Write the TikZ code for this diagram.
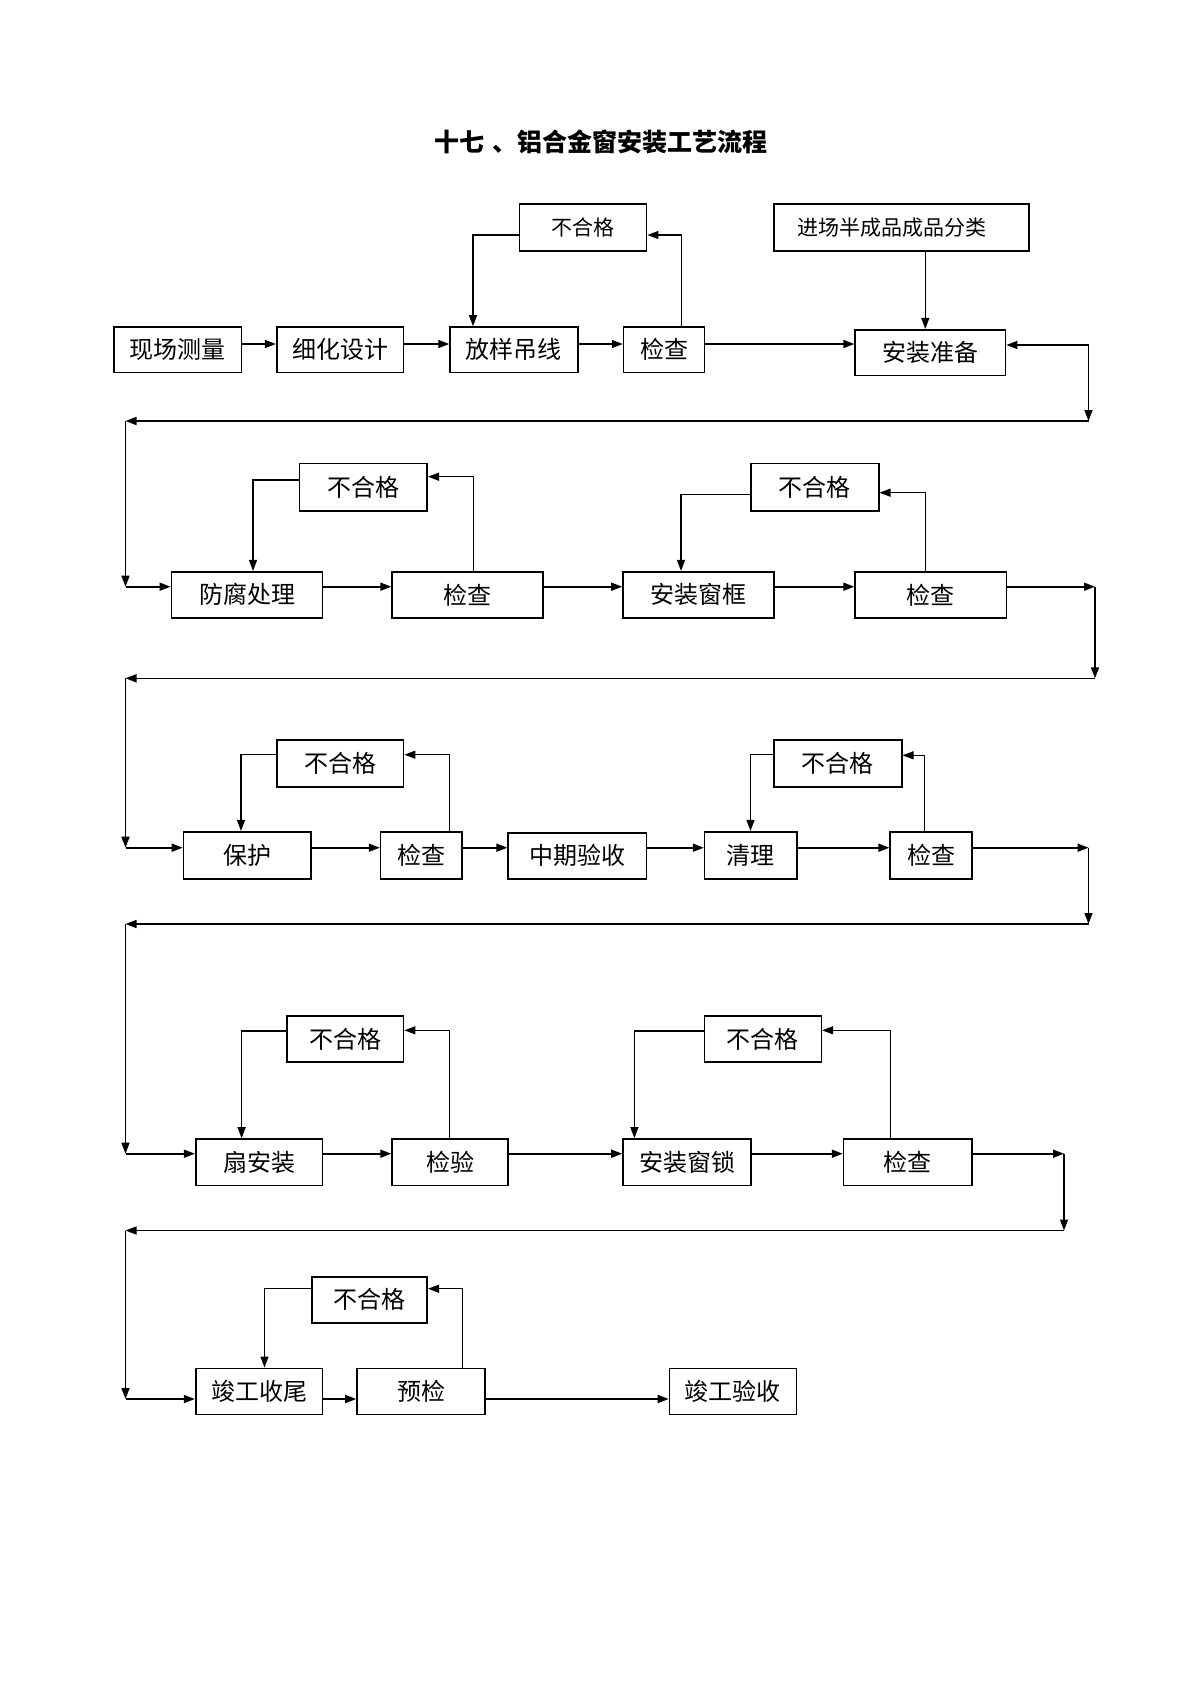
\documentclass[tikz,border=0pt]{standalone}
\usepackage{fontspec}
\setmainfont{Noto Sans CJK SC}
\usetikzlibrary{arrows.meta}
\tikzset{
  box/.style={draw, line width=0.8pt, inner sep=0pt, font=\fontsize{12pt}{12pt}\selectfont},
  sbox/.style={box, font=\fontsize{10.5pt}{10.5pt}\selectfont},
  flow/.style={line width=0.8pt, -{Triangle[length=5.5pt,width=4pt]}},
  back/.style={line width=0.6pt, -{Triangle[length=5.5pt,width=4pt]}},
}
\newcommand\bx[7][box]{\node[#1, minimum width={(#5-#3)*0.5pt}, minimum height={(#6-#4)*0.5pt}] (#2) at ({(#3+#5)/2},{(#4+#6)/2}) {#7};}
\begin{document}
\begin{tikzpicture}[x=0.5pt,y=-0.5pt]
\useasboundingbox[fill=white] (0,0) rectangle (1200,1697);

\node[font=\bfseries\fontsize{12.5pt}{12.5pt}\selectfont] (title) at (600.6,142) {十七\hspace{4pt}、铝合金窗安装工艺流程};

% row 1
\bx{a1}{114}{327}{241.6}{372.3}{现场测量}
\bx{a2}{276.7}{327}{403.6}{372.3}{细化设计}
\bx{a3}{450.1}{327}{577.7}{372.3}{放样吊线}
\bx{a4}{623.6}{327}{704.6}{372.3}{检查}
\bx{a5}{855.1}{329.7}{1005.6}{375.3}{安装准备}
\bx[sbox]{n1}{519.6}{203.7}{646.6}{250.7}{不合格}
\bx[sbox]{p1}{774.1}{203.7}{1029.2}{250.7}{\kern-10pt 进场半成品成品分类}

% row 2
\bx{b1}{171.4}{571.7}{322.6}{618}{防腐处理}
\bx{b2}{392.1}{571.7}{543.2}{618}{检查}
\bx{b3}{623}{571.7}{774.1}{618}{安装窗框}
\bx{b4}{855.1}{571.7}{1006.3}{618}{检查}
\bx{n2}{299.6}{463.3}{427.2}{510.7}{不合格}
\bx{n3}{751.1}{463.3}{878.7}{510.7}{不合格}

% row 3
\bx{c1}{183.5}{831.7}{311.1}{878.7}{保护}
\bx{c2}{380.6}{831.7}{462.2}{878.7}{检查}
\bx{c3}{508.2}{832.7}{646.6}{878.7}{中期验收}
\bx{c4}{704.6}{831.7}{797.1}{878.7}{清理}
\bx{c5}{890.2}{831.7}{971.8}{878.7}{检查}
\bx{n4}{276.7}{740}{403.6}{786.7}{不合格}
\bx{n5}{774.1}{740}{901.7}{786.7}{不合格}

% row 4
\bx{d1}{195.7}{1139}{322.6}{1185.3}{扇安装}
\bx{d2}{392.1}{1139}{508.2}{1185.3}{检验}
\bx{d3}{623}{1139}{751.1}{1185.3}{安装窗锁}
\bx{d4}{843.6}{1139}{971.8}{1185.3}{检查}
\bx{n6}{286.9}{1016}{403.6}{1062}{不合格}
\bx{n7}{704.6}{1016}{821.3}{1062}{不合格}

% row 5
\bx{e1}{195.7}{1368.3}{322.6}{1414.3}{竣工收尾}
\bx{e2}{357}{1368.3}{485.2}{1414.3}{预检}
\bx{e3}{669.5}{1368.3}{796.4}{1414.3}{竣工验收}
\bx{n8}{311.7}{1276.7}{427.2}{1322.7}{不合格}

% row levels
\coordinate (r1) at (0,344);
\coordinate (r2) at (0,586.7);
\coordinate (r3) at (0,847.7);
\coordinate (r4) at (0,1153.7);
\coordinate (r5) at (0,1399);

% corner points
\coordinate (k1) at (1088.5,345);
\coordinate (k2) at (1088.5,421);
\coordinate (k3) at (125.5,421);
\coordinate (k4) at (125.5,586.7);
\coordinate (k5) at (1095,586.7);
\coordinate (k6) at (1095,678.3);
\coordinate (k7) at (125.5,678.3);
\coordinate (k8) at (125.5,847.7);
\coordinate (k9) at (1088.5,847.7);
\coordinate (k10) at (1088.5,924);
\coordinate (k11) at (125.5,924);
\coordinate (k12) at (125.5,1153.7);
\coordinate (k13) at (1064,1153.7);
\coordinate (k14) at (1064,1230.5);
\coordinate (k15) at (125.5,1230.5);
\coordinate (k16) at (125.5,1399);

% row 1 connectors
\draw[flow] (a1.east |- r1) -- (a2.west |- r1);
\draw[flow] (a2.east |- r1) -- (a3.west |- r1);
\draw[flow] (a3.east |- r1) -- (a4.west |- r1);
\draw[flow] (a4.east |- r1) -- (a5.west |- r1);
\draw[back] (n1.west |- 0,235) -| (a3.north -| 473,0);
\draw[back] (a4.north -| 681.6,0) |- (n1.east |- 0,235);
\draw[back] (p1.south -| 925.3,0) -- (a5.north -| 925.3,0);
\draw[flow] (k1) -- (a5.east |- k1);
\draw[flow] (k1) -- (k2);
\draw[flow] (k2) -- (k3);
\draw[flow] (k3) -- (k4);
\draw[flow] (k4) -- (b1.west |- k4);

% row 2 connectors
\draw[flow] (b1.east |- r2) -- (b2.west |- r2);
\draw[flow] (b2.east |- r2) -- (b3.west |- r2);
\draw[flow] (b3.east |- r2) -- (b4.west |- r2);
\draw[back] (n2.west |- 0,480) -| (b1.north -| 253,0);
\draw[back] (b2.north -| 473.1,0) |- (n2.east |- 0,476.7);
\draw[back] (n3.west |- 0,494.7) -| (b3.north -| 681,0);
\draw[back] (b4.north -| 925.3,0) |- (n3.east |- 0,492.7);
\draw[flow] (b4.east |- k5) -- (k5);
\draw[flow] (k5) -- (k6);
\draw[flow] (k6) -- (k7);
\draw[flow] (k7) -- (k8);
\draw[flow] (k8) -- (c1.west |- k8);

% row 3 connectors
\draw[flow] (c1.east |- r3) -- (c2.west |- r3);
\draw[flow] (c2.east |- r3) -- (c3.west |- r3);
\draw[flow] (c3.east |- r3) -- (c4.west |- r3);
\draw[flow] (c4.east |- r3) -- (c5.west |- r3);
\draw[back] (n4.west |- 0,754.7) -| (c1.north -| 241,0);
\draw[back] (c2.north -| 449.5,0) |- (n4.east |- 0,754.7);
\draw[back] (n5.west |- 0,754.7) -| (c4.north -| 750.5,0);
\draw[back] (c5.north -| 924.6,0) |- (n5.east |- 0,755.3);
\draw[flow] (c5.east |- k9) -- (k9);
\draw[flow] (k9) -- (k10);
\draw[flow] (k10) -- (k11);
\draw[flow] (k11) -- (k12);
\draw[flow] (k12) -- (d1.west |- k12);

% row 4 connectors
\draw[flow] (d1.east |- r4) -- (d2.west |- r4);
\draw[flow] (d2.east |- r4) -- (d3.west |- r4);
\draw[flow] (d3.east |- r4) -- (d4.west |- r4);
\draw[back] (n6.west |- 0,1031) -| (d1.north -| 241.6,0);
\draw[back] (d2.north -| 449.5,0) |- (n6.east |- 0,1030.3);
\draw[back] (n7.west |- 0,1031) -| (d3.north -| 634.4,0);
\draw[back] (d4.north -| 890.8,0) |- (n7.east |- 0,1030.3);
\draw[flow] (d4.east |- k13) -- (k13);
\draw[flow] (k13) -- (k14);
\draw[flow] (k14) -- (k15);
\draw[flow] (k15) -- (k16);
\draw[flow] (k16) -- (e1.west |- k16);

% row 5 connectors
\draw[flow] (e1.east |- r5) -- (e2.west |- r5);
\draw[flow] (e2.east |- r5) -- (e3.west |- r5);
\draw[back] (n8.west |- 0,1288.7) -| (e1.north -| 264.5,0);
\draw[back] (e2.north -| 462.2,0) |- (n8.east |- 0,1288.7);
\end{tikzpicture}
\end{document}
